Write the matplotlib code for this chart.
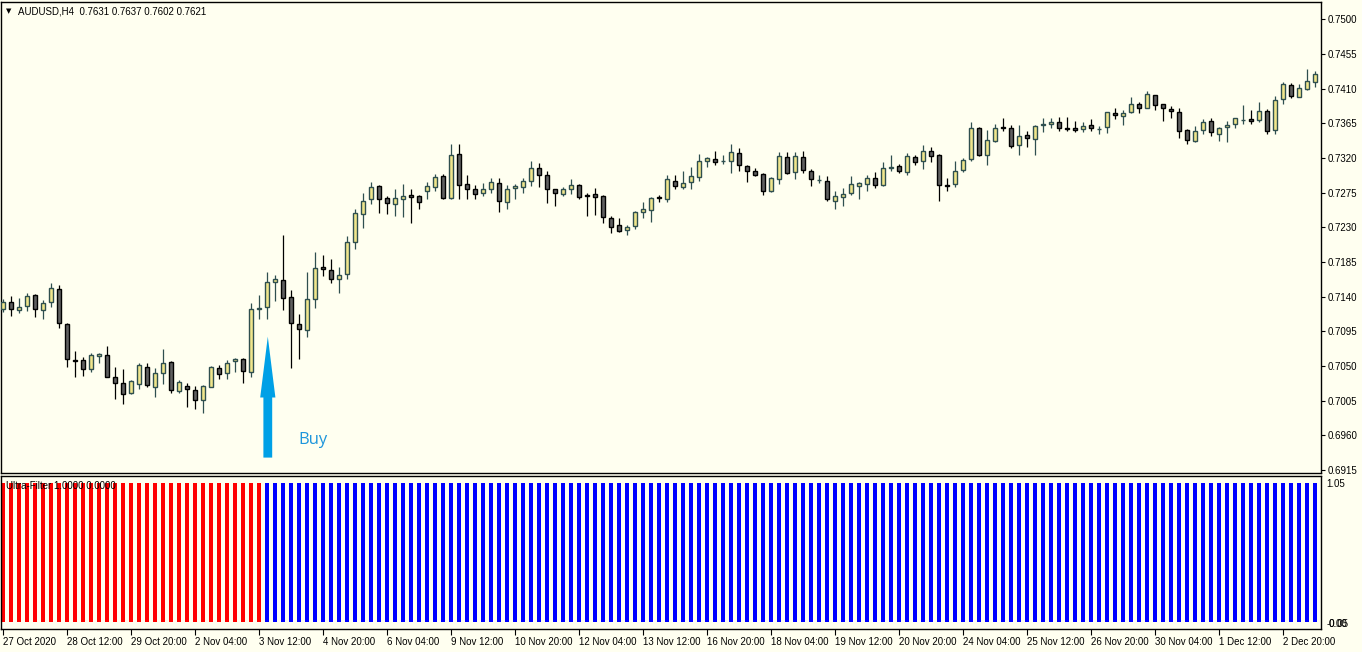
import matplotlib
matplotlib.use('Agg')
import matplotlib.pyplot as plt

# AUDUSD H4 candles, one per bar from 27 Oct 2020 on
opens = [0.7124, 0.7133, 0.7123, 0.7128, 0.7142, 0.7123, 0.7133, 0.7150, 0.7105, 0.7058,
         0.7058, 0.7046, 0.7063, 0.7064, 0.7036, 0.7028, 0.7015, 0.7027, 0.7049, 0.7023,
         0.7041, 0.7055, 0.7018, 0.7024, 0.7019, 0.7006, 0.7023, 0.7047, 0.7041, 0.7056,
         0.7059, 0.7042, 0.7124, 0.7127, 0.7159, 0.7162, 0.7140, 0.7105, 0.7097, 0.7137,
         0.7178, 0.7175, 0.7163, 0.7169, 0.7211, 0.7247, 0.7266, 0.7284, 0.7268, 0.7260,
         0.7267, 0.7272, 0.7271, 0.7277, 0.7282, 0.7297, 0.7268, 0.7325, 0.7286, 0.7279,
         0.7275, 0.7280, 0.7288, 0.7263, 0.7281, 0.7282, 0.7290, 0.7307, 0.7298, 0.7279,
         0.7273, 0.7279, 0.7285, 0.7272, 0.7273, 0.7271, 0.7242, 0.7233, 0.7227, 0.7232,
         0.7250, 0.7253, 0.7269, 0.7266, 0.7290, 0.7282, 0.7289, 0.7295, 0.7316, 0.7319,
         0.7316, 0.7316, 0.7326, 0.7310, 0.7303, 0.7299, 0.7277, 0.7293, 0.7321, 0.7302,
         0.7321, 0.7303, 0.7291, 0.7290, 0.7264, 0.7269, 0.7275, 0.7284, 0.7286, 0.7294,
         0.7285, 0.7307, 0.7310, 0.7302, 0.7321, 0.7316, 0.7329, 0.7324, 0.7285, 0.7286,
         0.7304, 0.7319, 0.7359, 0.7324, 0.7342, 0.7360, 0.7359, 0.7337, 0.7350, 0.7345,
         0.7363, 0.7364, 0.7366, 0.7359, 0.7359, 0.7358, 0.7363, 0.7358, 0.7360, 0.7378,
         0.7375, 0.7380, 0.7390, 0.7385, 0.7402, 0.7390, 0.7384, 0.7380, 0.7356, 0.7342,
         0.7356, 0.7368, 0.7351, 0.7360, 0.7364, 0.7369, 0.7371, 0.7369, 0.7381, 0.7356,
         0.7397, 0.7415, 0.7399, 0.7410, 0.7419]
highs = [0.7137, 0.7141, 0.7138, 0.7145, 0.7143, 0.7136, 0.7157, 0.7155, 0.7106, 0.7070,
         0.7062, 0.7067, 0.7067, 0.7076, 0.7049, 0.7046, 0.7032, 0.7054, 0.7054, 0.7047,
         0.7072, 0.7056, 0.7032, 0.7028, 0.7024, 0.7025, 0.7050, 0.7051, 0.7058, 0.7060,
         0.7060, 0.7132, 0.7142, 0.7172, 0.7168, 0.7220, 0.7149, 0.7118, 0.7172, 0.7198,
         0.7194, 0.7189, 0.7179, 0.7218, 0.7254, 0.7275, 0.7289, 0.7285, 0.7270, 0.7280,
         0.7286, 0.7279, 0.7272, 0.7289, 0.7299, 0.7299, 0.7338, 0.7338, 0.7298, 0.7285,
         0.7288, 0.7294, 0.7294, 0.7285, 0.7286, 0.7294, 0.7316, 0.7314, 0.7303, 0.7280,
         0.7282, 0.7293, 0.7286, 0.7275, 0.7281, 0.7272, 0.7245, 0.7242, 0.7233, 0.7251,
         0.7263, 0.7269, 0.7272, 0.7298, 0.7298, 0.7303, 0.7308, 0.7325, 0.7321, 0.7329,
         0.7324, 0.7338, 0.7333, 0.7311, 0.7307, 0.7300, 0.7295, 0.7328, 0.7328, 0.7328,
         0.7329, 0.7306, 0.7298, 0.7297, 0.7277, 0.7281, 0.7297, 0.7289, 0.7298, 0.7302,
         0.7315, 0.7324, 0.7312, 0.7327, 0.7324, 0.7337, 0.7334, 0.7325, 0.7294, 0.7316,
         0.7320, 0.7367, 0.7360, 0.7356, 0.7364, 0.7372, 0.7363, 0.7363, 0.7355, 0.7363,
         0.7372, 0.7372, 0.7373, 0.7373, 0.7368, 0.7367, 0.7371, 0.7362, 0.7380, 0.7385,
         0.7382, 0.7399, 0.7393, 0.7407, 0.7402, 0.7390, 0.7388, 0.7385, 0.7358, 0.7361,
         0.7371, 0.7372, 0.7360, 0.7368, 0.7372, 0.7389, 0.7382, 0.7393, 0.7384, 0.7400,
         0.7419, 0.7417, 0.7416, 0.7436, 0.7433]
lows = [0.7120, 0.7115, 0.7119, 0.7121, 0.7114, 0.7111, 0.7127, 0.7099, 0.7049, 0.7036,
        0.7037, 0.7042, 0.7054, 0.7035, 0.7007, 0.7001, 0.7014, 0.7020, 0.7023, 0.7010,
        0.7027, 0.7015, 0.7015, 0.6997, 0.6994, 0.6989, 0.7022, 0.7033, 0.7033, 0.7042,
        0.7028, 0.7036, 0.7111, 0.7111, 0.7134, 0.7123, 0.7047, 0.7059, 0.7088, 0.7125,
        0.7167, 0.7158, 0.7145, 0.7163, 0.7202, 0.7229, 0.7260, 0.7249, 0.7247, 0.7245,
        0.7243, 0.7236, 0.7254, 0.7267, 0.7277, 0.7267, 0.7267, 0.7267, 0.7267, 0.7266,
        0.7271, 0.7275, 0.7250, 0.7254, 0.7267, 0.7275, 0.7284, 0.7282, 0.7262, 0.7258,
        0.7271, 0.7273, 0.7267, 0.7245, 0.7246, 0.7236, 0.7223, 0.7224, 0.7220, 0.7228,
        0.7242, 0.7237, 0.7263, 0.7263, 0.7280, 0.7280, 0.7280, 0.7290, 0.7308, 0.7311,
        0.7312, 0.7301, 0.7303, 0.7289, 0.7297, 0.7272, 0.7276, 0.7286, 0.7299, 0.7293,
        0.7301, 0.7284, 0.7288, 0.7264, 0.7254, 0.7258, 0.7272, 0.7266, 0.7277, 0.7281,
        0.7284, 0.7303, 0.7301, 0.7298, 0.7311, 0.7306, 0.7315, 0.7264, 0.7277, 0.7282,
        0.7302, 0.7316, 0.7323, 0.7311, 0.7341, 0.7355, 0.7333, 0.7324, 0.7334, 0.7324,
        0.7354, 0.7359, 0.7355, 0.7355, 0.7353, 0.7354, 0.7355, 0.7351, 0.7352, 0.7371,
        0.7363, 0.7378, 0.7378, 0.7385, 0.7382, 0.7368, 0.7372, 0.7346, 0.7338, 0.7341,
        0.7351, 0.7349, 0.7342, 0.7341, 0.7359, 0.7364, 0.7364, 0.7366, 0.7351, 0.7351,
        0.7390, 0.7398, 0.7399, 0.7408, 0.7412]
closes = [0.7133, 0.7124, 0.7127, 0.7141, 0.7124, 0.7132, 0.7151, 0.7106, 0.7059, 0.7056,
          0.7046, 0.7064, 0.7066, 0.7036, 0.7028, 0.7014, 0.7031, 0.7051, 0.7025, 0.7041,
          0.7054, 0.7019, 0.7029, 0.7020, 0.7006, 0.7024, 0.7049, 0.7040, 0.7054, 0.7059,
          0.7044, 0.7124, 0.7125, 0.7159, 0.7163, 0.7138, 0.7106, 0.7098, 0.7137, 0.7177,
          0.7176, 0.7163, 0.7168, 0.7211, 0.7249, 0.7264, 0.7282, 0.7267, 0.7262, 0.7268,
          0.7271, 0.7269, 0.7263, 0.7284, 0.7295, 0.7268, 0.7324, 0.7285, 0.7280, 0.7273,
          0.7279, 0.7289, 0.7264, 0.7280, 0.7284, 0.7290, 0.7307, 0.7298, 0.7280, 0.7275,
          0.7280, 0.7285, 0.7269, 0.7271, 0.7269, 0.7243, 0.7230, 0.7225, 0.7230, 0.7250,
          0.7254, 0.7268, 0.7268, 0.7292, 0.7284, 0.7288, 0.7297, 0.7316, 0.7320, 0.7315,
          0.7316, 0.7328, 0.7311, 0.7303, 0.7298, 0.7277, 0.7294, 0.7323, 0.7301, 0.7323,
          0.7304, 0.7293, 0.7291, 0.7266, 0.7271, 0.7273, 0.7286, 0.7288, 0.7294, 0.7285,
          0.7307, 0.7308, 0.7303, 0.7323, 0.7315, 0.7329, 0.7323, 0.7285, 0.7284, 0.7303,
          0.7317, 0.7359, 0.7324, 0.7343, 0.7359, 0.7359, 0.7336, 0.7349, 0.7346, 0.7362,
          0.7364, 0.7367, 0.7359, 0.7358, 0.7356, 0.7362, 0.7359, 0.7358, 0.7380, 0.7376,
          0.7378, 0.7390, 0.7385, 0.7403, 0.7389, 0.7385, 0.7381, 0.7355, 0.7343, 0.7355,
          0.7367, 0.7353, 0.7359, 0.7363, 0.7372, 0.7369, 0.7368, 0.7381, 0.7355, 0.7395,
          0.7416, 0.7400, 0.7411, 0.7420, 0.7429]

# Ultra-Filter histogram: 33 red (down) bars, then blue (up) bars
filter_down = 33
filter_up = 132
filter_level = 1.0

date_labels = ['27 Oct 2020', '28 Oct 12:00', '29 Oct 20:00', '2 Nov 04:00', '3 Nov 12:00',
               '4 Nov 20:00', '6 Nov 04:00', '9 Nov 12:00', '10 Nov 20:00', '12 Nov 04:00',
               '13 Nov 12:00', '16 Nov 20:00', '18 Nov 04:00', '19 Nov 12:00', '20 Nov 20:00',
               '24 Nov 04:00', '25 Nov 12:00', '26 Nov 20:00', '30 Nov 04:00', '1 Dec 12:00',
               '2 Dec 20:00']
label_step = 8
price_ticks = [0.7500, 0.7455, 0.7410, 0.7365, 0.7320, 0.7275, 0.7230, 0.7185,
               0.7140, 0.7095, 0.7050, 0.7005, 0.6960, 0.6915]

buy_bar = 33
buy_from = 0.6931
buy_to = 0.7088

# colours
bg = '#FFFFF0'
bull_face = '#F0E68C'
bull_line = '#2F4F4F'
bear_face = '#606060'
bear_line = '#000000'
arrow_col = '#00A0E6'

plt.rcParams['font.family'] = ['Liberation Sans', 'DejaVu Sans']
plt.rcParams['font.size'] = 7

W, H = 1362, 652
fig = plt.figure(figsize=(W / 100, H / 100), dpi=100, facecolor=bg)
ax = fig.add_axes([1 / W, (H - 473) / H, 1320 / W, (473 - 1.5) / H], facecolor=bg)
ax2 = fig.add_axes([1 / W, (H - 629) / H, 1320 / W, (629 - 476) / H], facecolor=bg)

n = len(opens)
xs = list(range(n))

# candles
for i in xs:
    o, h, l, c = opens[i], highs[i], lows[i], closes[i]
    up = c >= o
    line = bull_line if up else bear_line
    face = bull_face if up else bear_face
    ax.vlines(i, l, h, colors=line, linewidth=0.9, zorder=2)
    ax.bar(i, abs(c - o), bottom=min(o, c), width=0.62, color=face,
           edgecolor=line, linewidth=1.0, zorder=3)

ax.set_xlim(-0.25, n - 0.25)
ax.set_ylim(0.6911, 0.7523)
ax.set_xticks([])
ax.yaxis.tick_right()
ax.set_yticks(price_ticks)
ax.set_yticklabels(['%.4f' % p for p in price_ticks])
ax.tick_params(axis='y', length=3, width=0.8, pad=2, labelsize=7)

# buy arrow
ax.arrow(buy_bar + 0.1, buy_from, 0, buy_to - buy_from, width=1.1, head_width=1.9,
         head_length=0.0079, length_includes_head=True, color=arrow_col, lw=0, zorder=5)
ax.text(buy_bar + 3.9, 0.6954, 'Buy', color='#1E96DC', fontsize=12,
        family=['Open Sans', 'DejaVu Sans'], va='center', ha='left')

# header
fig.text(6 / W, 1 - 11 / H, '\u25bc', family='DejaVu Sans', fontsize=5, va='center')
fig.text(18 / W, 1 - 11 / H, 'AUDUSD,H4  0.7631 0.7637 0.7602 0.7621', fontsize=7, va='center')

# indicator pane
bar_cols = ['#FF0000'] * filter_down + ['#0000FF'] * filter_up
ax2.bar(xs, [filter_level] * n, width=0.62, color=bar_cols, linewidth=0)
ax2.set_xlim(-0.25, n - 0.25)
ax2.set_ylim(-0.05, 1.05)
ax2.set_yticks([])
ticks = list(range(0, n, label_step))[:len(date_labels)]
ax2.set_xticks(ticks)
ax2.set_xticklabels(date_labels, ha='left')
ax2.tick_params(axis='x', length=4, width=0.8, pad=1.5, labelsize=7)
ax2.text(0.004, 1 - 10 / 153, 'Ultra-Filter 1.0000 0.0000', transform=ax2.transAxes,
         fontsize=7, va='center', zorder=6)
ax2.text(1.004, 1 - 8 / 153, '1.05', transform=ax2.transAxes, fontsize=7, va='center')
ax2.text(1.004, 5 / 153, '-0.05', transform=ax2.transAxes, fontsize=7, va='center')
ax2.text(1.006, 5 / 153, '0.00', transform=ax2.transAxes, fontsize=7, va='center')

for a in (ax, ax2):
    for s in a.spines.values():
        s.set_color('black')
        s.set_linewidth(1.0)

fig.savefig('out.png', dpi=100, facecolor=bg)
